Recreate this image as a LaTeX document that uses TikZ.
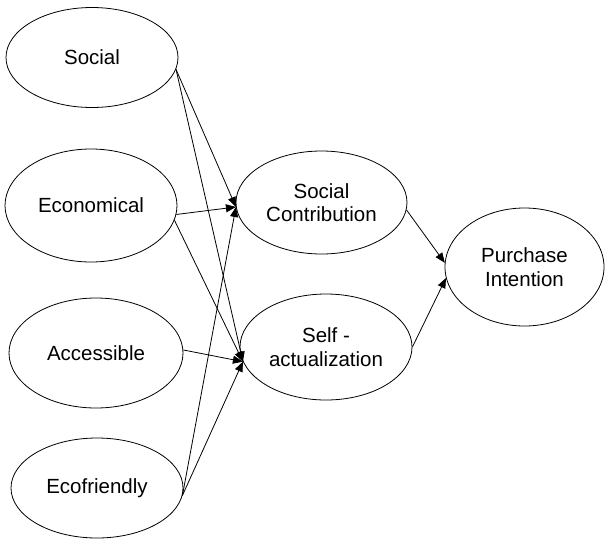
\documentclass[tikz,border=0pt]{standalone}
\usepackage{fontspec}
\setmainfont{Liberation Sans}
\usetikzlibrary{shapes.geometric,arrows.meta}
\begin{document}
\begin{tikzpicture}[x=1pt,y=-1pt,
  oval/.style={draw, ellipse, line width=0.8pt, inner sep=0pt, align=center,
    font=\fontsize{20.5}{23.5}\selectfont},
  link/.style={line width=0.8pt, -{Triangle[length=10pt,width=8pt]}}]
\useasboundingbox (0,0) rectangle (605,539);
\node[oval, minimum width=172pt, minimum height=100pt] (social) at (92,57.5) {Social};
\node[oval, minimum width=172pt, minimum height=113pt] (econ) at (91,205.5) {Economical};
\node[oval, minimum width=174pt, minimum height=110pt] (acc) at (96,353) {Accessible};
\node[oval, minimum width=172pt, minimum height=100pt] (eco) at (97,488) {Ecofriendly};
\node[oval, minimum width=171pt, minimum height=103pt] (sc) at (321.5,202.5) {Social\\Contribution};
\node[oval, minimum width=172pt, minimum height=106pt] (sa) at (326,347) {Self -\\actualization};
\node[oval, minimum width=159pt, minimum height=118pt] (pi) at (524.5,267) {Purchase\\Intention};
\draw[link] (social.-8) -- (sc.183);
\draw[link] (social.-8) -- (sa.190);
\draw[link] (econ.-6) -- (sc.183);
\draw[link] (econ.-10) -- (sa.190);
\draw[link] (acc.2) -- (sa.190);
\draw[link] (eco.-5) -- (sc.183);
\draw[link] (eco.-5) -- (sa.190);
\draw[link] (sc.-5) -- (pi.177);
\draw[link] (sa.0) -- (pi.188);
\end{tikzpicture}
\end{document}
